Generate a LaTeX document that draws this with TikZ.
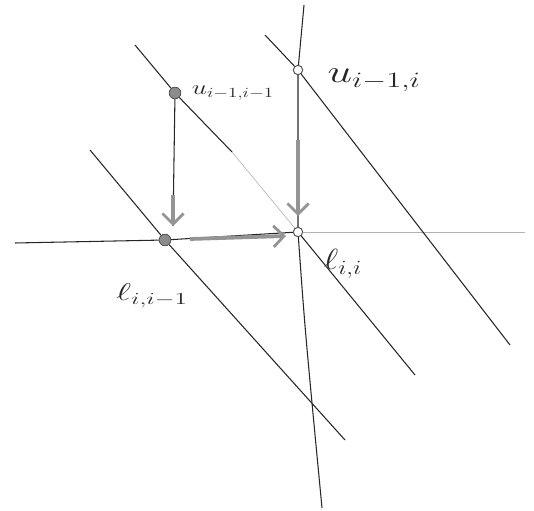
\documentclass[tikz,border=0pt]{standalone}
\usetikzlibrary{arrows.meta}
\begin{document}
\begin{tikzpicture}[x=0.03cm,y=-0.03cm,
  pen/.style={draw=black!85, line width=0.9pt},
  faint/.style={draw=black!30, line width=0.5pt},
  flow/.style={draw=black!42, line width=3.2pt, -{Straight Barb[length=9pt,width=18pt,line width=2.4pt]}},
  dotfill/.style={circle, draw=black!70, fill=black!45, inner sep=0pt, minimum size=10pt, line width=0.6pt},
  dotopen/.style={circle, draw=black!65, fill=white, inner sep=0pt, minimum size=8pt, line width=0.9pt},
  lab/.style={text=black!85, inner sep=1pt}]
\useasboundingbox (0,0) rectangle (534,511);
% nodes
\node[dotfill] (a) at (175,93) {};
\node[dotopen] (b) at (298,70) {};
\node[dotfill] (c) at (165,240) {};
\node[dotopen] (d) at (298,232) {};
% end coordinates of lines
\coordinate (h1) at (15,243);
\coordinate (h2) at (525,232);
\coordinate (v1) at (304,5);
\coordinate (v2) at (322,508);
\coordinate (d1s) at (135,45);
\coordinate (d1m) at (232,152);
\coordinate (d1e) at (415,375);
\coordinate (d2s) at (90,150);
\coordinate (d2e) at (345,440);
\coordinate (d3s) at (265,35);
\coordinate (d3e) at (510,345);
\coordinate (ta) at (173,226);
\coordinate (tb) at (298,216);
\coordinate (sb) at (298,140);
\coordinate (sc) at (190,239);
\coordinate (td) at (286,236);
% horizontal line
\draw[pen] (h1) -- (c);
\draw[pen] (c) -- (d);
\draw[faint] (d) -- (h2);
% vertical line
\draw[pen] (v1) -- (b) -- (d) .. controls (305,330) .. (v2);
% diagonals
\draw[pen] (d1s) -- (a) -- (d1m);
\draw[faint] (d1m) -- (d);
\draw[pen] (d) -- (d1e);
\draw[pen] (d2s) -- (c) -- (d2e);
\draw[pen] (d3s) -- (b) -- (d3e);
% flow arrows
\draw[pen] (a) -- (ta);
\draw[flow] (173,195) -- (ta);
\draw[flow] (sb) -- (tb);
\draw[flow] (sc) -- (td);
% labels
\node[lab, font=\LARGE, xscale=1.35, anchor=west] (la) at (190,93) {$u_{i-1,i-1}$};
\node[lab, font=\huge, scale=1.3, xscale=1.4, anchor=west] (lb) at (325,80) {$u_{i-1,i}$};
\node[lab, font=\huge, xscale=1.5] (lc) at (152,296) {$\ell_{i,i-1}$};
\node[lab, font=\huge, scale=1.2, xscale=1.2] (ld) at (343,264) {$\ell_{i,i}$};
\end{tikzpicture}
\end{document}
